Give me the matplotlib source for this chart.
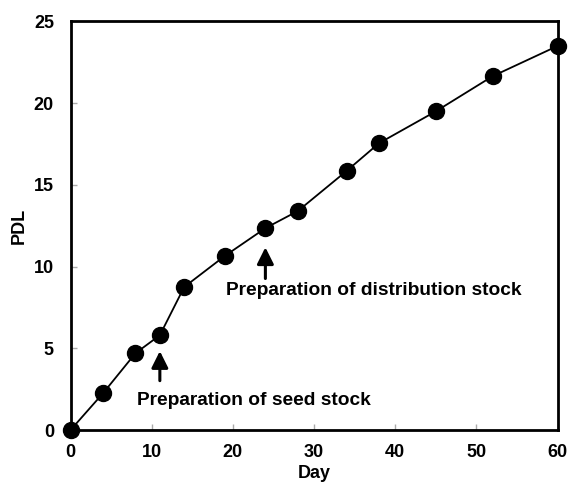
import matplotlib.pyplot as plt

plt.rcParams['font.family'] = ['Liberation Sans', 'DejaVu Sans']
plt.rcParams['font.weight'] = 'bold'

# population doubling level over culture time
day = [0, 4, 8, 11, 14, 19, 24, 28, 34, 38, 45, 52, 60]
pdl = [0, 2.25, 4.7, 5.8, 8.75, 10.65, 12.35, 13.4, 15.85, 17.55, 19.5, 21.65, 23.5]

fig = plt.figure(figsize=(5.69, 4.87), dpi=100)
ax = fig.add_axes([0.124, 0.117, 0.856, 0.839])

ax.plot(day, pdl, color='black', lw=1.3, marker='o', ms=11.5,
        mfc='black', mec='black', clip_on=False, zorder=3)

ax.set_xlim(0, 60)
ax.set_ylim(0, 25)
ax.set_xticks(range(0, 61, 10))
ax.set_yticks(range(0, 26, 5))
ax.tick_params(direction='in', length=4, width=1, color='#aaaaaa',
               labelsize=13)
ax.tick_params(axis='x', pad=10)
ax.tick_params(axis='y', pad=12)
for lab in ax.get_xticklabels() + ax.get_yticklabels():
    lab.set_fontweight('bold')
for s in ax.spines.values():
    s.set_linewidth(2)

ax.set_xlabel('Day', fontsize=13, fontweight='bold', labelpad=3)
ax.set_ylabel('PDL', fontsize=13, fontweight='bold', labelpad=4.5)

arrow = dict(arrowstyle='-|>,head_width=0.5,head_length=1.0', color='black', lw=2.2)
ax.annotate('', xy=(11, 5.0), xytext=(11, 2.85), arrowprops=arrow)
ax.text(8.2, 1.8, 'Preparation of seed stock', fontsize=13.8,
        fontweight='bold', va='center', ha='left')
ax.annotate('', xy=(24, 11.35), xytext=(24, 9.1), arrowprops=arrow)
ax.text(19.2, 8.55, 'Preparation of distribution stock', fontsize=13.8,
        fontweight='bold', va='center', ha='left')

fig.savefig('out.png', dpi=100)
